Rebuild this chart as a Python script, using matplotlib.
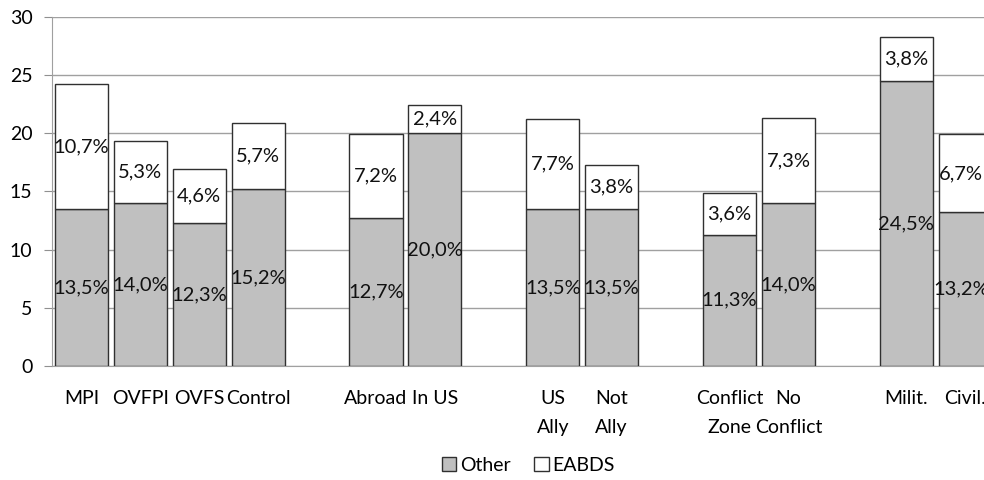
import matplotlib
matplotlib.use("Agg")
import matplotlib.pyplot as plt
import numpy as np

plt.rcParams['font.family'] = ['Lato', 'DejaVu Sans']

categories = ["MPI", "OVFPI", "OVFS", "Control",
              "Abroad", "In US",
              "US\nAlly", "Not\nAlly",
              "Conflict\nZone", "No\nConflict",
              "Milit.", "Civil."]
# slot index of each bar, one empty slot between groups
slots = [0, 1, 2, 3, 5, 6, 8, 9, 11, 12, 14, 15]
other = [13.5, 14.0, 12.3, 15.2, 12.7, 20.0, 13.5, 13.5, 11.3, 14.0, 24.5, 13.2]
eabds = [10.7, 5.3, 4.6, 5.7, 7.2, 2.4, 7.7, 3.8, 3.6, 7.3, 3.8, 6.7]


def pct(v):
    return ("%.1f%%" % v).replace(".", ",")


fig = plt.figure(figsize=(9.84, 4.8), dpi=100)
ax = fig.add_axes([0.0528, 0.2375, 0.9472, 0.7271])

x = np.array(slots)
b1 = ax.bar(x, other, width=0.9, color="#C0C0C0", edgecolor="#303030",
            linewidth=1.0, label="Other", zorder=3)
b2 = ax.bar(x, eabds, width=0.9, bottom=other, color="white",
            edgecolor="#303030", linewidth=1.0, label="EABDS", zorder=3)
ax.bar_label(b1, labels=[pct(v) for v in other], label_type="center",
             fontsize=14.5, color="#111111", zorder=4)
ax.bar_label(b2, labels=[pct(v) for v in eabds], label_type="center",
             fontsize=14.5, color="#111111", zorder=4)

ax.set_xlim(-0.5, 15.32)
ax.set_ylim(0, 30)
ax.set_yticks(range(0, 31, 5))
ax.set_xticks(x)
ax.set_xticklabels(categories, fontsize=14, linespacing=1.85, va="top")
ax.tick_params(axis="x", length=0, pad=17)
ax.tick_params(axis="y", length=6, color="#909090", labelsize=14, pad=8)
ax.yaxis.grid(True, color="#A0A0A0", linewidth=1.0, zorder=0)
ax.set_axisbelow(True)
for s in ["top", "right"]:
    ax.spines[s].set_visible(False)
ax.spines["left"].set_color("#A0A0A0")
ax.spines["bottom"].set_color("#A0A0A0")

fig.legend(handles=[b1, b2], labels=["Other", "EABDS"], loc="center",
           bbox_to_anchor=(0.537, 0.03), ncol=2, frameon=False, fontsize=14,
           handlelength=0.75, handleheight=0.75, handletextpad=0.2,
           columnspacing=1.2)

fig.savefig("out.png", dpi=100)
